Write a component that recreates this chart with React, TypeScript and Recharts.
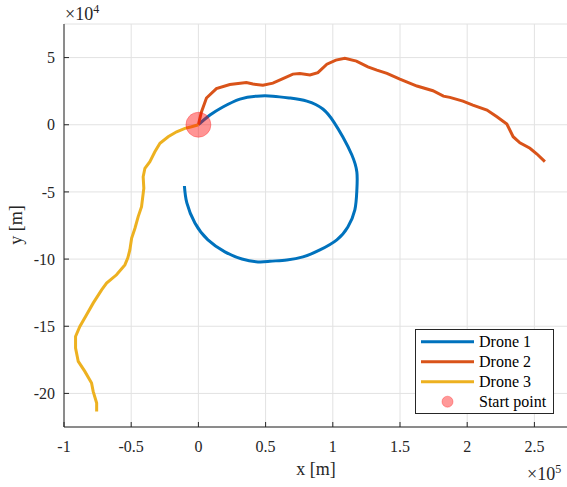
import { ScatterChart, Scatter, XAxis, YAxis, CartesianGrid, Legend, Customized } from "recharts"

const fontFamily = "Liberation Serif, Times New Roman, serif"

// trajectories [x, y] in metres
const drone1: [number, number][] = [
  [0, 0], [8600, 7200], [18200, 13200], [30900, 19100], [43500, 21300], [55400, 21300],
  [68100, 19900], [80700, 17600], [92600, 11700], [100800, 2000], [107500, -9100],
  [114200, -22500], [117900, -35200], [117900, -48600], [116400, -63400], [111200, -76100],
  [103000, -85700], [90400, -93200], [77800, -98400], [65800, -100600], [53200, -101700],
  [44300, -102100], [32400, -99900], [19700, -94600], [7100, -85700], [-2600, -73100],
  [-8600, -58200], [-10400, -45600],
]

const drone2: [number, number][] = [
  [0, 0], [2200, 9400], [6000, 19900], [13400, 26900], [23400, 29900], [35700, 31400],
  [40600, 30300], [48000, 29500], [55400, 31000], [62900, 34300], [70300, 37700],
  [75500, 38100], [83000, 37000], [88900, 38800], [95600, 45100], [102300, 48100],
  [109000, 49400], [117600, 47400], [126100, 43100], [132800, 40700], [140300, 38200],
  [149900, 34000], [162600, 28800], [174500, 25300], [182300, 21300], [187100, 20400],
  [196800, 17600], [204200, 14600], [214700, 10900], [222100, 5900], [229500, 500],
  [234200, -8900], [239200, -13400], [246700, -17500], [251900, -21800], [257800, -27500],
]

const drone3: [number, number][] = [
  [0, 0], [-5100, -1500], [-10000, -2700], [-16200, -5200], [-22500, -8900], [-28600, -13800],
  [-32400, -20100], [-36100, -27500], [-39800, -32400], [-41100, -38700], [-40600, -47300],
  [-42300, -61000], [-44800, -68400], [-47200, -77000], [-49700, -84500], [-51000, -93200],
  [-52500, -99100], [-54700, -104300], [-60900, -111700], [-68300, -117900], [-72000, -122900],
  [-78300, -132800], [-83200, -141500], [-88200, -150200], [-91400, -157600], [-91400, -166200],
  [-89400, -176200], [-84500, -183600], [-79500, -192300], [-78300, -198500], [-75700, -207100],
  [-75700, -213400],
]

const startPoint: [number, number][] = [[0, 0]]

const seriesNames = ["Drone 1", "Drone 2", "Drone 3", "Start point"]
const colors = ["#0072BD", "#D95319", "#EDB120"]
const curves = ["natural", "linear", "linear"] as const
const startColor = "#ff0000"

const xTicks = [-100000, -50000, 0, 50000, 100000, 150000, 200000, 250000]
const yTicks = [-200000, -150000, -100000, -50000, 0, 50000]

const toPoints = (d: [number, number][]) => d.map(([x, y]) => ({ x, y }))

const axisColor = "#262626"
const tickStyle = { fill: axisColor, fontSize: 16, fontFamily }

function LegendBox() {
  const rows = [0, 1, 2, 3]
  return (
    <svg width={139} height={85} style={{ display: "block", fontFamily }}>
      <rect x={0.5} y={0.5} width={138} height={84} fill="#fff" stroke={axisColor} />
      {rows.map((i) => {
        const cy = 12.7 + i * 20
        return (
          <g key={i}>
            {i < 3 ? (
              <line x1={6} x2={59} y1={cy} y2={cy} stroke={colors[i]} strokeWidth={3} />
            ) : (
              <circle cx={32.5} cy={cy} r={5.5} fill={startColor} fillOpacity={0.4} stroke={startColor} strokeOpacity={0.3} />
            )}
            <text x={64} y={cy + 5.5} fontSize={16} fontFamily={fontFamily} fill="#000">
              {seriesNames[i]}
            </text>
          </g>
        )
      })}
    </svg>
  )
}

function Annotations() {
  return (
    <g fontFamily={fontFamily} fill={axisColor} style={{ fontFamily }}>
      <text x={316} y={475} textAnchor="middle" fontSize={18}>x [m]</text>
      <text x={22} y={225} textAnchor="middle" fontSize={18} transform="rotate(-90 22 225)">y [m]</text>
      <text x={65} y={20} fontSize={18}>
        ×10<tspan dy={-7} fontSize={12}>4</tspan>
      </text>
      <text x={527} y={480} fontSize={18}>
        ×10<tspan dy={-7} fontSize={12}>5</tspan>
      </text>
    </g>
  )
}

const noShape = () => <g />

export default function App() {
  return (
    <div style={{ position: "absolute", left: 0, top: 0, width: 567, height: 487, overflow: "hidden", background: "#fff", fontFamily }}>
      <ScatterChart width={568} height={487} margin={{ top: 24, right: 0, bottom: 0, left: 0 }} style={{ fontFamily }}>
        <CartesianGrid stroke="#e2e2e2" />
        <XAxis
          type="number"
          dataKey="x"
          domain={[-100000, 275000]}
          ticks={xTicks}
          allowDataOverflow
          tickFormatter={(v: number) => String(v / 100000)}
          tickSize={-5}
          tickMargin={19}
          height={60}
          stroke={axisColor}
          tick={tickStyle}
        />
        <XAxis
          xAxisId="top"
          orientation="top"
          type="number"
          domain={[-100000, 275000]}
          ticks={xTicks}
          allowDataOverflow
          tickFormatter={() => ""}
          tickSize={-5}
          height={0}
          stroke={axisColor}
        />
        <YAxis
          type="number"
          dataKey="y"
          domain={[-225000, 75000]}
          ticks={yTicks}
          allowDataOverflow
          tickFormatter={(v: number) => String(v / 10000)}
          tickSize={-5}
          tickMargin={14}
          width={64}
          stroke={axisColor}
          tick={tickStyle}
        />
        <YAxis
          yAxisId="right"
          orientation="right"
          type="number"
          domain={[-225000, 75000]}
          ticks={yTicks}
          allowDataOverflow
          tickFormatter={() => ""}
          tickSize={-5}
          width={0}
          stroke={axisColor}
        />
        {[drone1, drone2, drone3].map((d, i) => (
          <Scatter
            key={seriesNames[i]}
            name={seriesNames[i]}
            data={toPoints(d)}
            fill={colors[i]}
            line={{ stroke: colors[i], strokeWidth: 3 }}
            lineJointType={curves[i]}
            shape={noShape}
            isAnimationActive={false}
          />
        ))}
        <Scatter
          name={seriesNames[3]}
          data={toPoints(startPoint)}
          fill={startColor}
          shape={(p: any) => (
            <circle cx={p.cx} cy={p.cy} r={12.5} fill={startColor} fillOpacity={0.42} stroke={startColor} strokeOpacity={0.3} />
          )}
          isAnimationActive={false}
        />
        <Legend
          layout="vertical"
          align="center"
          verticalAlign="middle"
          content={() => <LegendBox />}
          wrapperStyle={{ left: 415, top: 329, width: 139, height: 85 }}
        />
        <Customized component={Annotations} />
      </ScatterChart>
    </div>
  )
}
